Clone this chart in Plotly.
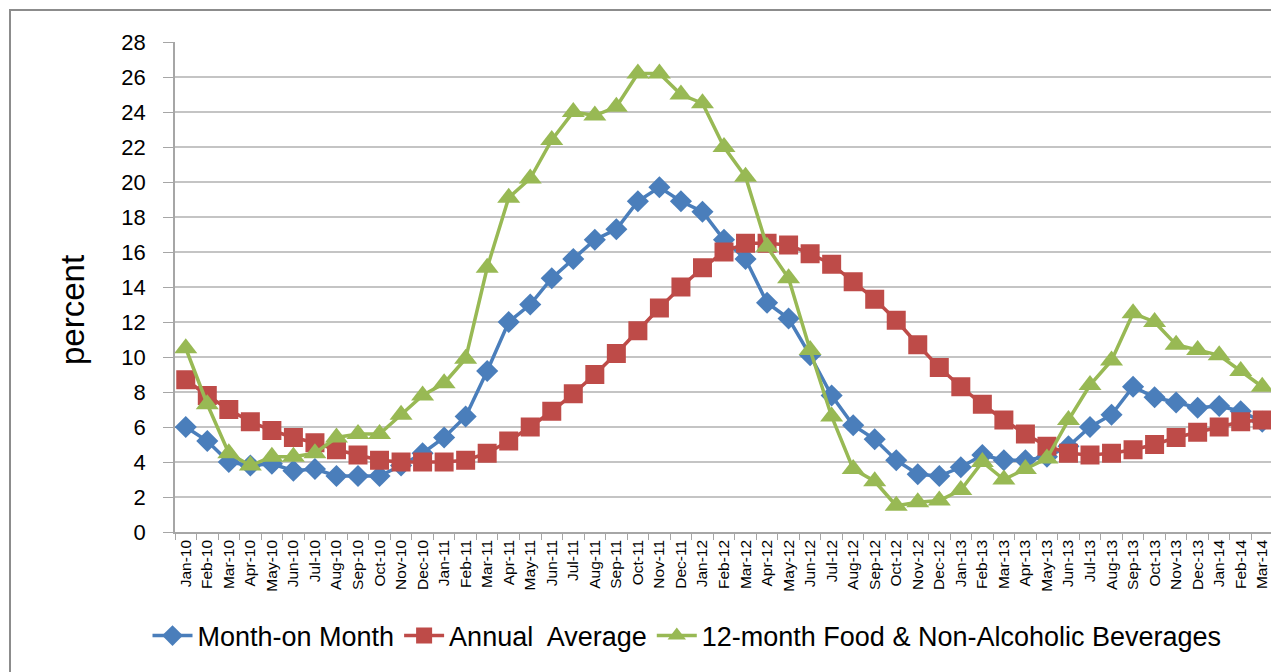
import plotly.graph_objects as go

months = ["Jan-10","Feb-10","Mar-10","Apr-10","May-10","Jun-10","Jul-10","Aug-10","Sep-10","Oct-10","Nov-10","Dec-10",
          "Jan-11","Feb-11","Mar-11","Apr-11","May-11","Jun-11","Jul-11","Aug-11","Sep-11","Oct-11","Nov-11","Dec-11",
          "Jan-12","Feb-12","Mar-12","Apr-12","May-12","Jun-12","Jul-12","Aug-12","Sep-12","Oct-12","Nov-12","Dec-12",
          "Jan-13","Feb-13","Mar-13","Apr-13","May-13","Jun-13","Jul-13","Aug-13","Sep-13","Oct-13","Nov-13","Dec-13",
          "Jan-14","Feb-14","Mar-14"]

month_on_month = [6.0,5.2,4.0,3.8,3.9,3.5,3.6,3.2,3.2,3.2,3.8,4.5,
                  5.4,6.6,9.2,12.0,13.0,14.5,15.6,16.7,17.3,18.9,19.7,18.9,
                  18.3,16.7,15.6,13.1,12.2,10.1,7.8,6.1,5.3,4.1,3.3,3.2,
                  3.7,4.4,4.1,4.1,4.3,4.9,6.0,6.7,8.3,7.7,7.4,7.1,
                  7.2,6.9,6.3]

annual_average = [8.7,7.8,7.0,6.3,5.8,5.4,5.1,4.7,4.4,4.1,4.0,4.0,
                  4.0,4.1,4.5,5.2,6.0,6.9,7.9,9.0,10.2,11.5,12.8,14.0,
                  15.1,16.0,16.5,16.5,16.4,15.9,15.3,14.3,13.3,12.1,10.7,9.4,
                  8.3,7.3,6.4,5.6,4.9,4.5,4.4,4.5,4.7,5.0,5.4,5.7,
                  6.0,6.3,6.4]

food_12m = [10.5,7.3,4.5,3.8,4.3,4.3,4.5,5.4,5.6,5.6,6.7,7.8,
            8.5,9.9,15.1,19.1,20.2,22.4,24.0,23.8,24.3,26.2,26.2,25.0,
            24.5,22.0,20.3,16.3,14.5,10.4,6.6,3.6,2.9,1.5,1.7,1.8,
            2.4,4.0,3.0,3.6,4.2,6.4,8.4,9.8,12.5,12.0,10.7,10.4,
            10.1,9.2,8.3]

y_ticks = list(range(0, 29, 2))

W, H = 1279, 672
L, T, R, B = 167, 34, 14, 148
PW, PH = W - L - R, H - T - B

fig = go.Figure()
fig.add_trace(go.Scatter(x=months, y=month_on_month, name="Month-on Month", mode="lines+markers",
                         line=dict(color="#4A7EBB", width=3.5),
                         marker=dict(symbol="diamond", size=17, color="#4A7EBB")))
fig.add_trace(go.Scatter(x=months, y=annual_average, name="Annual  Average", mode="lines+markers",
                         line=dict(color="#BE4B48", width=3.5),
                         marker=dict(symbol="square", size=19, color="#BE4B48")))
fig.add_trace(go.Scatter(x=months, y=food_12m, name="12-month Food & Non-Alcoholic Beverages", mode="lines+markers",
                         line=dict(color="#98B954", width=3.5),
                         marker=dict(symbol="triangle-up", size=20, color="#98B954")))

fig.update_layout(
    width=W, height=H,
    margin=dict(l=L, r=R, t=T, b=B),
    paper_bgcolor="white", plot_bgcolor="white",
    font=dict(family="Liberation Sans, Arial, sans-serif", color="black"),
    showlegend=True,
    legend=dict(orientation="h", xref="container", yref="container",
                x=679 / W, xanchor="center",
                y=1 - 628 / H, yanchor="middle",
                font=dict(size=27), traceorder="normal", itemwidth=40),
    xaxis=dict(type="category", tickangle=-90, tickfont=dict(size=15.5),
               showgrid=False, showline=True, linecolor="#A6A6A6", linewidth=1.5,
               ticks="outside", tickson="boundaries", ticklen=6, tickcolor="#A6A6A6",
               range=[-0.5, len(months) - 0.5]),
    yaxis=dict(range=[0, 28], tickvals=y_ticks, tickfont=dict(size=22),
               showgrid=True, gridcolor="#C4C4C4", gridwidth=1.5,
               showline=True, linecolor="#A6A6A6", linewidth=1.5,
               ticks="outside", ticklen=10, tickcolor="#A6A6A6", zeroline=False,
               ticklabelstandoff=13),
)

fig.add_annotation(text="percent", textangle=-90, showarrow=False,
                   xref="paper", yref="paper",
                   x=(64 - L) / PW, y=((T + PH) - 302) / PH,
                   xanchor="center", yanchor="middle",
                   font=dict(size=33, color="black"))

fig.add_shape(type="rect", xref="paper", yref="paper",
              x0=(2 - L) / PW, x1=(1269 - L) / PW,
              y0=-(720 - (T + PH)) / PH, y1=((T + PH) - 2) / PH,
              line=dict(color="#8C8C8C", width=2), fillcolor="rgba(0,0,0,0)")

fig.write_html("out.html")
